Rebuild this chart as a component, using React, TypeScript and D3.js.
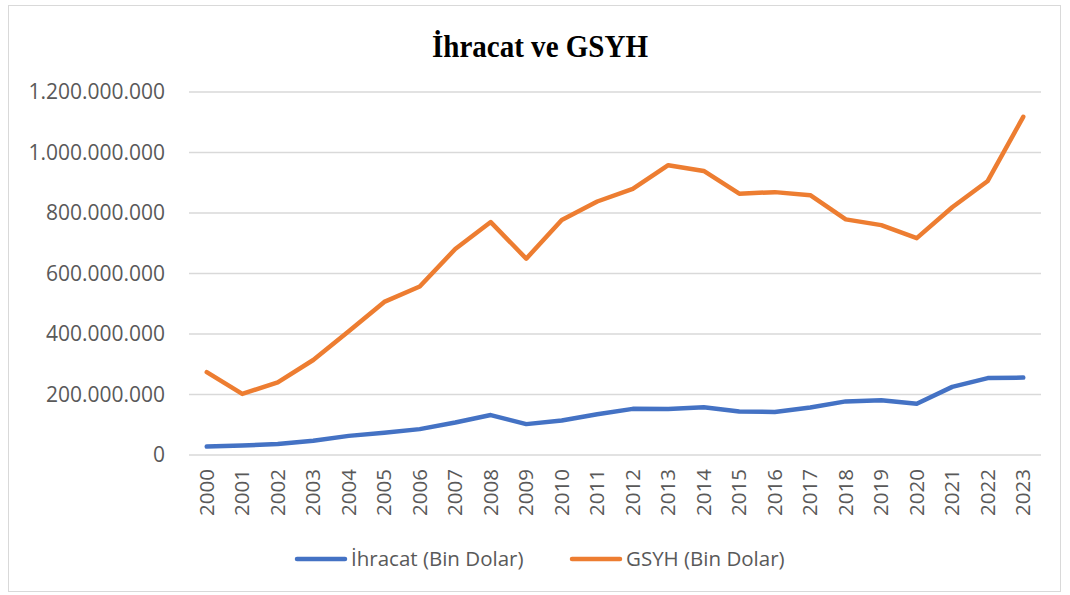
import React from "react";
import * as d3 from "d3";

const years = [
  "2000", "2001", "2002", "2003", "2004", "2005", "2006", "2007", "2008", "2009", "2010", "2011",
  "2012", "2013", "2014", "2015", "2016", "2017", "2018", "2019", "2020", "2021", "2022", "2023",
];

// Bin Dolar
const ihracat = [
  27800000, 31300000, 36100000, 47300000, 63200000, 73500000, 85500000, 107300000, 132000000,
  102100000, 113900000, 134900000, 152500000, 151800000, 157600000, 143800000, 142500000,
  157000000, 177200000, 180800000, 169600000, 225200000, 254200000, 255800000,
];

const gsyh = [
  274000000, 202000000, 240000000, 314000000, 409000000, 506000000, 557000000, 681000000,
  770000000, 649000000, 777000000, 838000000, 880000000, 958000000, 939000000, 864000000,
  869000000, 859000000, 779000000, 760000000, 717000000, 819000000, 906000000, 1118000000,
];

const yTicks = [0, 200000000, 400000000, 600000000, 800000000, 1000000000, 1200000000];

const seriesNames = ["İhracat (Bin Dolar)", "GSYH (Bin Dolar)"];
const colors = ["#4472C4", "#ED7D31"];

const width = 1070;
const height = 595;
const margin = { top: 92, right: 29, bottom: 140, left: 189 };

const fmt = (v: number) => (v === 0 ? "0" : d3.format(",")(v).replace(/,/g, "."));

export default function App() {
  const x = d3
    .scaleBand<string>()
    .domain(years)
    .range([margin.left, width - margin.right]);

  const y = d3
    .scaleLinear()
    .domain([0, 1200000000])
    .range([height - margin.bottom, margin.top]);

  const line = d3
    .line<number>()
    .x((_, i) => (x(years[i]) as number) + x.bandwidth() / 2)
    .y((d) => y(d));

  const series = [ihracat, gsyh];
  const font = "'Open Sans', sans-serif";

  return (
    <svg
      width={width}
      height={height}
      style={{ position: "absolute", left: 0, top: 0, background: "#fff" }}
    >
      <rect x={8.5} y={5.5} width={1052} height={586} fill="#fff" stroke="#d9d9d9" strokeWidth={1} />

      <text
        x={540}
        y={57}
        textAnchor="middle"
        fontFamily="'Liberation Serif', serif"
        fontWeight="bold"
        fontSize={32}
        textLength={216}
        lengthAdjust="spacingAndGlyphs"
        fill="#000"
      >
        İhracat ve GSYH
      </text>

      {/* gridlines + y labels */}
      {yTicks.map((t) => (
        <g key={t}>
          <line
            x1={margin.left}
            x2={width - margin.right}
            y1={y(t)}
            y2={y(t)}
            stroke="#d9d9d9"
            strokeWidth={1.5}
          />
          <text
            x={165}
            y={y(t)}
            dy="0.35em"
            textAnchor="end"
            fontFamily={font}
            fontSize={21}
            fill="#595959"
          >
            {fmt(t)}
          </text>
        </g>
      ))}

      {/* x labels */}
      {years.map((yr) => {
        const cx = (x(yr) as number) + x.bandwidth() / 2;
        return (
          <text
            key={yr}
            transform={`translate(${cx},${y(0) + 14}) rotate(-90)`}
            textAnchor="end"
            dy="0.35em"
            fontFamily={font}
            fontSize={20.5}
            fill="#595959"
          >
            {yr}
          </text>
        );
      })}

      {series.map((s, i) => (
        <path
          key={i}
          d={line(s) as string}
          fill="none"
          stroke={colors[i]}
          strokeWidth={4.5}
          strokeLinejoin="round"
          strokeLinecap="round"
        />
      ))}

      {/* legend */}
      {[297, 572].map((lx, i) => (
        <g key={i}>
          <line x1={lx} x2={lx + 48} y1={559} y2={559} stroke={colors[i]} strokeWidth={4.5} strokeLinecap="round" />
          <text x={lx + 54} y={559} dy="0.35em" fontFamily={font} fontSize={20.5} fill="#595959">
            {seriesNames[i]}
          </text>
        </g>
      ))}
    </svg>
  );
}
